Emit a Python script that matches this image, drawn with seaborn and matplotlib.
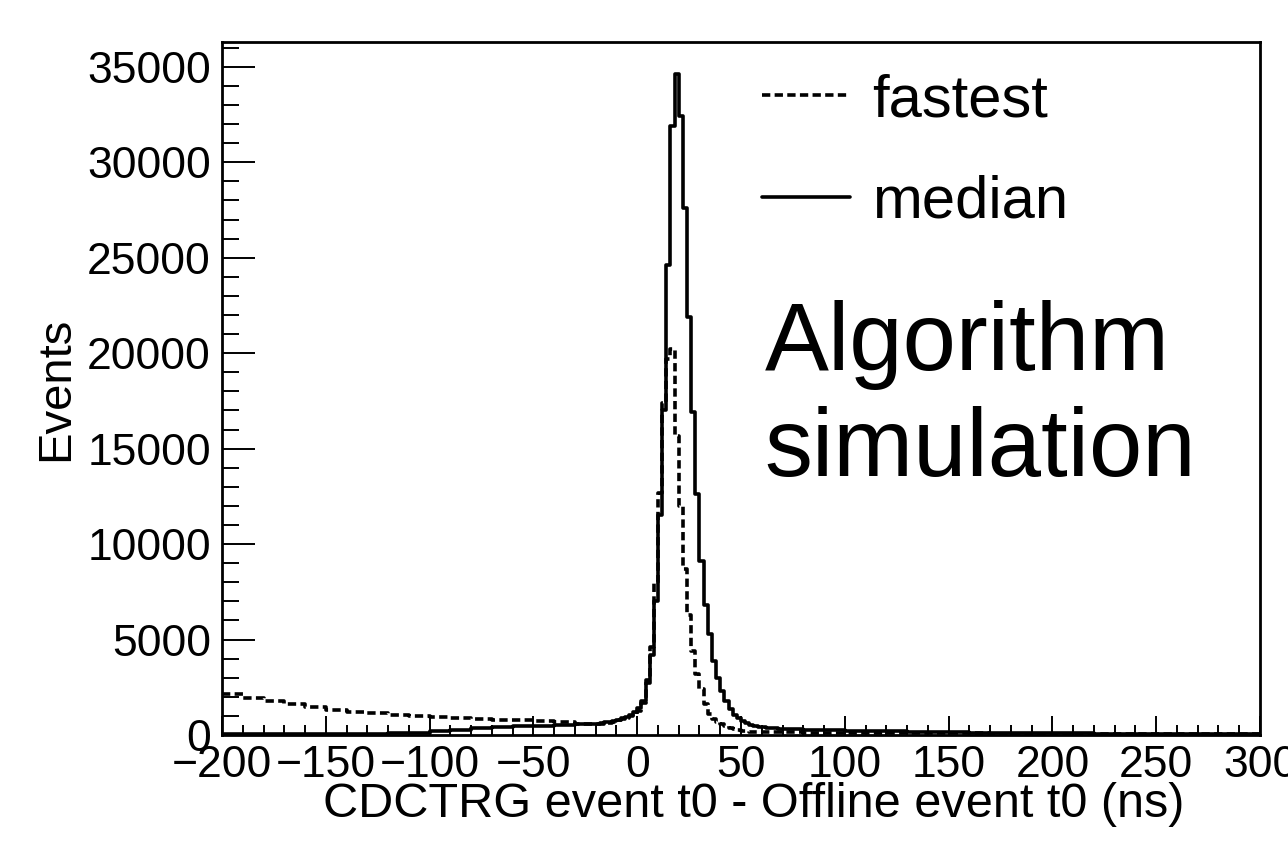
import numpy as np
import pandas as pd
import seaborn as sns
import matplotlib.pyplot as plt
from matplotlib.ticker import MultipleLocator

# t0 difference (ns), counts per 2 ns bin
# tails are read in 10 ns steps, the core around the peak in 2 ns steps
left_edges = np.arange(-200, -20, 10)
core_edges = np.arange(-20, 70, 2)
right_edges = np.arange(70, 300, 10)

fastest_left = [2150, 1950, 1760, 1600, 1460, 1300, 1220, 1160, 1060,
                1000, 950, 910, 860, 810, 760, 710, 670, 600]
fastest_core = [560, 580, 610, 650, 700, 760, 830, 900, 980, 1080,
                1250, 1700, 2900, 4600, 8000, 12700, 17400, 19700, 20200, 15650,
                12000, 8700, 6300, 4400, 3200, 2400, 1650, 1100, 820, 680,
                580, 480, 390, 310, 250, 210, 190, 175, 165, 160,
                155, 150, 145, 140, 138]
fastest_right = [135, 125, 118, 110, 105, 100, 95, 90, 85, 80, 75, 70,
                 65, 60, 56, 52, 48, 45, 42, 39, 36, 33, 30]

median_left = [30, 30, 35, 35, 40, 45, 50, 60, 80, 120, 190, 280,
               360, 420, 460, 490, 520, 560]
median_core = [600, 630, 660, 700, 750, 810, 880, 960, 1060, 1200,
               1400, 1800, 2700, 4200, 7000, 11500, 17000, 24600, 31900, 34600,
               32400, 27600, 21900, 16900, 12600, 9100, 6800, 5300, 3900, 3000,
               2300, 1800, 1350, 1070, 880, 720, 610, 540, 480, 440,
               410, 390, 370, 350, 330]
median_right = [300, 270, 250, 230, 210, 190, 170, 150, 135, 125, 115, 105,
                95, 88, 80, 74, 68, 62, 57, 52, 47, 42, 38]

edges = np.concatenate([left_edges, core_edges, right_edges, [300]])
centers = (edges[:-1] + edges[1:]) / 2

fastest = pd.DataFrame({"t0": centers,
                        "events": fastest_left + fastest_core + fastest_right})
median = pd.DataFrame({"t0": centers,
                       "events": median_left + median_core + median_right})

sns.set_style("ticks")
plt.rcParams["font.family"] = ["Liberation Sans", "DejaVu Sans"]
plt.rcParams.update({"text.color": "black", "axes.labelcolor": "black",
                     "xtick.color": "black", "ytick.color": "black"})

fig = plt.figure(figsize=(12.88, 8.42), dpi=100)
ax = fig.add_axes([222 / 1288, 1 - 735 / 842, 1038 / 1288, 693 / 842])

sns.histplot(data=fastest, x="t0", weights="events", bins=edges.tolist(),
             element="step", fill=False, color="black", linewidth=2.6,
             linestyle=(0, (2.3, 1.2)), label="fastest", ax=ax)
sns.histplot(data=median, x="t0", weights="events", bins=edges.tolist(),
             element="step", fill=False, color="black", linewidth=2.6,
             label="median", ax=ax)

ax.set_xlim(-200, 300)
ax.set_ylim(0, 36300)

ax.xaxis.set_major_locator(MultipleLocator(50))
ax.xaxis.set_minor_locator(MultipleLocator(10))
ax.yaxis.set_major_locator(MultipleLocator(5000))
ax.yaxis.set_minor_locator(MultipleLocator(1000))
ax.tick_params(axis="both", which="both", direction="in", width=1.4,
               labelsize=32, colors="black")
ax.tick_params(axis="y", which="major", length=24, pad=8)
ax.tick_params(axis="y", which="minor", length=12)
ax.tick_params(axis="x", which="major", length=14, pad=7)
ax.tick_params(axis="x", which="minor", length=7)
for s in ax.spines.values():
    s.set_linewidth(2)
    s.set_color("black")
    s.set_visible(True)

ax.set_xlabel("CDCTRG event t0 - Offline event t0 (ns)", fontsize=35)
ax.set_ylabel("Events", fontsize=34)
ax.xaxis.set_label_coords(0.5125, -0.068)
ax.yaxis.set_label_coords(-0.139, 0.5)

ax.legend(loc="upper left", bbox_to_anchor=(0.52, 0.955), frameon=False,
          fontsize=43, handlelength=1.47, handletextpad=0.37,
          labelspacing=0.78, borderpad=0, borderaxespad=0)

ax.text(0.523, 0.628, "Algorithm\nsimulation", transform=ax.transAxes,
        fontsize=69, va="top", ha="left", linespacing=1.23)

fig.savefig("out.png", dpi=100)
